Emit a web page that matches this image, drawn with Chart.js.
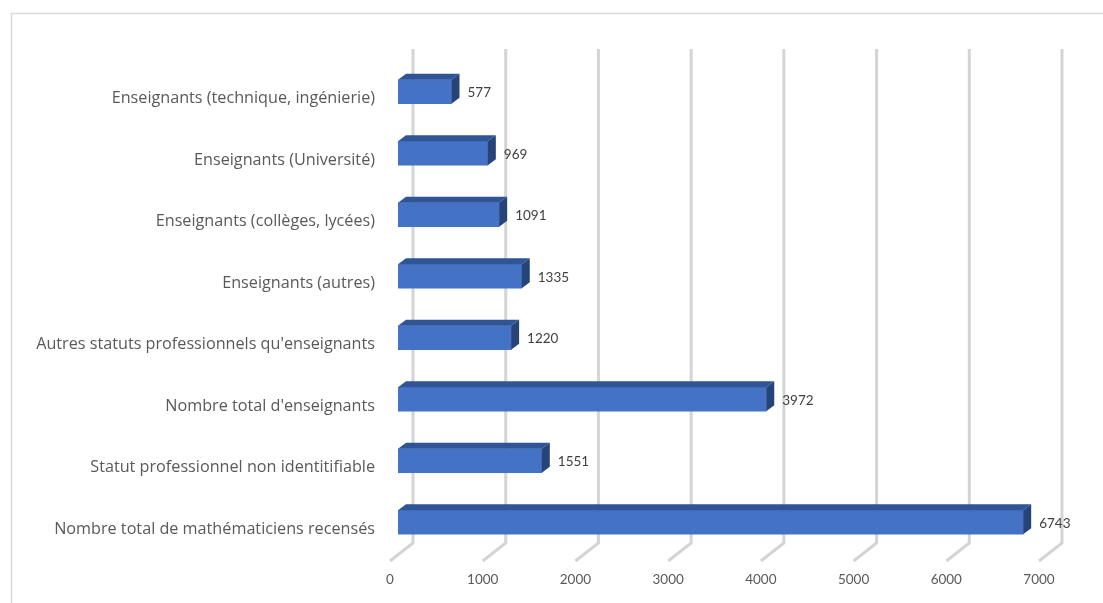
<!DOCTYPE html>
<html>
<head>
<meta charset="utf-8">
<script src="https://cdn.jsdelivr.net/npm/chart.js@4/dist/chart.umd.min.js"></script>
<style>
  body { margin: 0; background: #fff; }
</style>
</head>
<body>
<canvas id="chart" width="1103" height="603"></canvas>
<script>
const categories = [
  'Enseignants (technique, ingénierie)',
  'Enseignants (Université)',
  'Enseignants (collèges, lycées)',
  'Enseignants (autres)',
  "Autres statuts professionnels qu'enseignants",
  "Nombre total d'enseignants",
  'Statut professionnel non identitifiable',
  'Nombre total de mathématiciens recensés'
];
const counts = [577, 969, 1091, 1335, 1220, 3972, 1551, 6743];
const xTicks = [0, 1000, 2000, 3000, 4000, 5000, 6000, 7000];

// fake 3D: depth of the bars and of the floor/back wall
const barDepth = { dx: 8, dy: -6 };
const wallBack = 15, floorFront = -8;

const threeD = {
  id: 'threeD',
  beforeDraw(chart) {
    const ctx = chart.ctx;
    ctx.save();
    ctx.strokeStyle = '#d9d9d9';
    ctx.lineWidth = 1.5;
    ctx.beginPath();
    ctx.moveTo(11.5, 603);
    ctx.lineTo(11.5, 13.5);
    ctx.lineTo(1103, 13.5);
    ctx.stroke();
    ctx.restore();
  },
  beforeDatasetsDraw(chart) {
    const ctx = chart.ctx;
    const x = chart.scales.x;
    const top = 49, bottom = 543, frontY = 561;
    ctx.save();
    ctx.strokeStyle = '#d4d4d4';
    ctx.lineWidth = 3;
    xTicks.forEach(v => {
      const px = x.getPixelForValue(v);
      ctx.beginPath();
      ctx.moveTo(px + wallBack, top);
      ctx.lineTo(px + wallBack, bottom);
      ctx.lineTo(px + floorFront, frontY);
      ctx.stroke();
    });
    ctx.restore();
  },
  afterDatasetsDraw(chart) {
    const ctx = chart.ctx;
    const meta = chart.getDatasetMeta(0);
    ctx.save();
    meta.data.forEach((bar, i) => {
      const p = bar.getProps(['x', 'y', 'base', 'height'], true);
      const t = p.y - p.height / 2, b = p.y + p.height / 2;
      // top face
      ctx.fillStyle = '#2F5597';
      ctx.beginPath();
      ctx.moveTo(p.base, t);
      ctx.lineTo(p.base + barDepth.dx, t + barDepth.dy);
      ctx.lineTo(p.x + barDepth.dx, t + barDepth.dy);
      ctx.lineTo(p.x, t);
      ctx.closePath();
      ctx.fill();
      // side face
      ctx.fillStyle = '#264478';
      ctx.beginPath();
      ctx.moveTo(p.x, t);
      ctx.lineTo(p.x + barDepth.dx, t + barDepth.dy);
      ctx.lineTo(p.x + barDepth.dx, b + barDepth.dy);
      ctx.lineTo(p.x, b);
      ctx.closePath();
      ctx.fill();
      // value label
      ctx.fillStyle = '#404040';
      ctx.font = '13.5px Lato';
      ctx.textBaseline = 'middle';
      ctx.textAlign = 'left';
      ctx.fillText(String(counts[i]), p.x + 16, p.y + 1);
    });
    ctx.restore();
  }
};

new Chart(document.getElementById('chart'), {
  type: 'bar',
  data: {
    labels: categories,
    datasets: [{
      data: counts,
      backgroundColor: '#4472C4',
      borderWidth: 0,
      barThickness: 24
    }]
  },
  options: {
    indexAxis: 'y',
    responsive: false,
    animation: false,
    layout: { padding: { top: 61, right: 56, left: 0, bottom: 0 } },
    plugins: { legend: { display: false }, tooltip: { enabled: false } },
    scales: {
      x: {
        min: 0,
        max: 7000,
        afterFit: s => { s.height = 50; },
        ticks: {
          stepSize: 1000, labelOffset: -8, padding: 11, color: '#595959',
          font: { family: 'Lato', size: 13.5 },
          callback: v => String(v)
        },
        grid: { display: false },
        border: { display: false }
      },
      y: {
        afterFit: s => { s.width = 398; },
        ticks: { labelOffset: 7, padding: 15, color: '#595959', font: { family: 'Open Sans', size: 16.2 } },
        grid: { display: false },
        border: { display: false }
      }
    }
  },
  plugins: [threeD]
});
</script>
</body>
</html>
